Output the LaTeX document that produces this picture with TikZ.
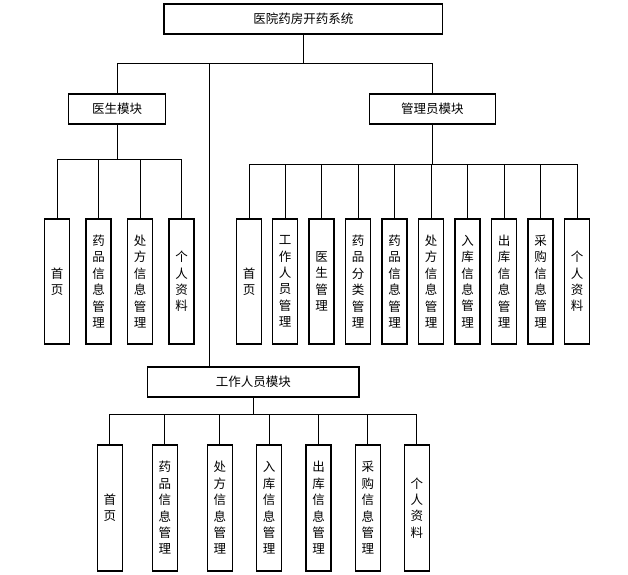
\documentclass[tikz,border=0pt]{standalone}
\usepackage{fontspec}
\newfontfamily\cjk{Noto Sans CJK SC}
\tikzset{
  hbox/.style={draw=black, line width=1.1pt, fill=white, inner sep=0pt,
    minimum height=30pt, font=\cjk\fontsize{12.5}{15}\selectfont},
  leaf/.style={draw=black, line width=1.1pt, fill=white, inner sep=0pt,
    minimum width=25pt, align=center, font=\cjk\fontsize{12.5}{16.4}\selectfont},
  conn/.style={draw=black, line width=0.9pt}
}
\begin{document}
\begin{tikzpicture}[x=1pt,y=-1pt]
\useasboundingbox (0,0) rectangle (628,574);
% main boxes
\node[hbox, minimum width=278.7pt] (top) at (303.3,19) {医院药房开药系统};
\node[hbox, minimum width=97.4pt] (doc) at (117,109) {医生模块};
\node[hbox, minimum width=126pt] (adm) at (432.3,109) {管理员模块};
\node[hbox, minimum width=211.3pt] (stf) at (253.3,382) {工作人员模块};
% doctor leaves
\begin{scope}[every node/.style={leaf, minimum height=125pt}]
\node (d1) at (57,281.5) {首\\页};
\node (d2) at (98.5,281.5) {药\\品\\信\\息\\管\\理};
\node (d3) at (140,281.5) {处\\方\\信\\息\\管\\理};
\node (d4) at (181.5,281.5) {个\\人\\资\\料};
% admin leaves
\node (a1) at (249.2,281.5) {首\\页};
\node (a2) at (285.2,281.5) {工\\作\\人\\员\\管\\理};
\node (a3) at (321.5,281.5) {医\\生\\管\\理};
\node (a4) at (358.2,281.5) {药\\品\\分\\类\\管\\理};
\node (a5) at (394.5,281.5) {药\\品\\信\\息\\管\\理};
\node (a6) at (431.2,281.5) {处\\方\\信\\息\\管\\理};
\node (a7) at (467.5,281.5) {入\\库\\信\\息\\管\\理};
\node (a8) at (504.2,281.5) {出\\库\\信\\息\\管\\理};
\node (a9) at (540.5,281.5) {采\\购\\信\\息\\管\\理};
\node (a10) at (577.2,281.5) {个\\人\\资\\料};
\end{scope}
% staff leaves
\begin{scope}[every node/.style={leaf, minimum height=126pt}]
\node (s1) at (109.8,508) {首\\页};
\node (s2) at (164.8,508) {药\\品\\信\\息\\管\\理};
\node (s3) at (219.8,508) {处\\方\\信\\息\\管\\理};
\node (s4) at (269.2,508) {入\\库\\信\\息\\管\\理};
\node (s5) at (318.5,508) {出\\库\\信\\息\\管\\理};
\node (s6) at (367.8,508) {采\\购\\信\\息\\管\\理};
\node (s7) at (416.8,508) {个\\人\\资\\料};
\end{scope}
% junction coordinates
\coordinate (j0) at (303.3,63.5);
\coordinate (jt) at (209,63.5);
\coordinate (jd) at (117,159);
\coordinate (ja) at (432.3,164);
\coordinate (js) at (253.3,414);
% connectors
\draw[conn] (top.south) -- (j0);
\draw[conn] (j0) -| (doc.north);
\draw[conn] (j0) -| (adm.north);
\draw[conn] (jt) -- (jt |- stf.north);
\draw[conn] (doc.south) -- (jd);
\foreach \n in {d1,d2,d3,d4} \draw[conn] (jd) -| (\n.north);
\draw[conn] (adm.south) -- (ja);
\foreach \n in {a1,a2,a3,a4,a5,a6,a7,a8,a9,a10} \draw[conn] (ja) -| (\n.north);
\draw[conn] (stf.south) -- (js);
\foreach \n in {s1,s2,s3,s4,s5,s6,s7} \draw[conn] (js) -| (\n.north);
\end{tikzpicture}
\end{document}
